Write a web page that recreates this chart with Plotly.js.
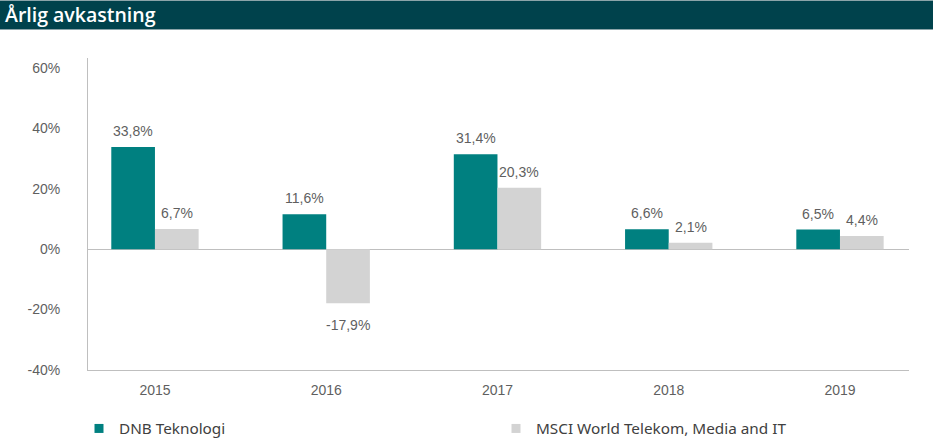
<!DOCTYPE html>
<html>
<head>
<meta charset="utf-8">
<script src="https://cdn.plot.ly/plotly-3.0.1.min.js"></script>
<style>html,body{margin:0;padding:0;background:#fff;}#chart{width:933px;height:441px;}</style>
</head>
<body>
<div id="chart"></div>
<script>
const categories = ["2015", "2016", "2017", "2018", "2019"];
const seriesNames = ["DNB Teknologi", "MSCI World Telekom, Media and IT"];
const dnbValues = [33.8, 11.6, 31.4, 6.6, 6.5];
const msciValues = [6.7, -17.9, 20.3, 2.1, 4.4];
const yTickValues = [-40, -20, 0, 20, 40, 60];
const yTickLabels = ["-40%", "-20%", "0%", "20%", "40%", "60%"];
const titleText = "Årlig avkastning";

const fmt = v => v.toFixed(1).replace('.', ',') + '%';

const W = 933, H = 441;
const M = {l: 88, r: 24, t: 58, b: 71, autoexpand: false};
const PW = W - M.l - M.r, PH = H - M.t - M.b;
const py = p => 1 + (M.t - p) / PH;   // pixel row -> paper y
const px = p => (p - M.l) / PW;       // pixel col -> paper x

const labelFont = () => ({family: "Liberation Sans, Arial, sans-serif", size: 14, color: "#5f5f5f"});
const legendFont = {family: "Noto Sans, sans-serif", size: 15.3, color: "#404040"};
const colors = ["#008080", "#d3d3d3"];

const traces = [
  {type: "bar", name: seriesNames[0], x: categories, y: dnbValues, showlegend: false,
   marker: {color: colors[0]}, hoverinfo: "none"},
  {type: "bar", name: seriesNames[1], x: categories, y: msciValues, showlegend: false,
   marker: {color: colors[1]}, hoverinfo: "none"},
  // legend-only entries (no data drawn)
  {type: "scatter", mode: "markers", name: seriesNames[0], x: [null], y: [null], legend: "legend",
   marker: {symbol: "square", size: 9, color: colors[0]}, hoverinfo: "none"},
  {type: "scatter", mode: "markers", name: seriesNames[1], x: [null], y: [null], legend: "legend2",
   marker: {symbol: "square", size: 9, color: colors[1]}, hoverinfo: "none"}
];

// value labels placed on the axes' own scales, offset to each bar of the group
const halfBar = 21.8;
const labelAnn = (vals, side) => vals.map((v, i) => ({
  x: i, y: v, xref: "x", yref: "y", text: fmt(v), showarrow: false,
  xshift: side * halfBar, font: labelFont(), xanchor: "center",
  yanchor: v >= 0 ? "bottom" : "top", yshift: v >= 0 ? 6 : -12
}));
const annotations = labelAnn(dnbValues, -1).concat(labelAnn(msciValues, 1));

const layout = {
  width: W, height: H,
  margin: M,
  paper_bgcolor: "#fff", plot_bgcolor: "#fff",
  barmode: "group", bargap: 0.49, bargroupgap: 0,
  title: {text: titleText, x: 5 / W, xref: "container", xanchor: "left", y: 1 - 15 / H, yanchor: "middle", yref: "container",
          font: {family: "Open Sans, sans-serif", size: 19.5, color: "#ffffff", weight: 600}, pad: {l: 0, t: 0, b: 0, r: 0}},
  xaxis: {type: "category", range: [-0.391, 4.403], showgrid: false, zeroline: false,
          showline: true, linecolor: "#bfbfbf", linewidth: 1, ticks: "",
          tickfont: labelFont(), ticklabelstandoff: 7, fixedrange: true},
  yaxis: {range: [-40, 63.3], tickvals: yTickValues, ticktext: yTickLabels, showgrid: false,
          zeroline: true, zerolinecolor: "#bfbfbf", zerolinewidth: 1,
          showline: true, linecolor: "#bfbfbf", linewidth: 1, ticks: "",
          tickfont: labelFont(), ticklabelstandoff: 24, fixedrange: true},
  showlegend: true,
  legend: {orientation: "h", x: px(79), xanchor: "left", y: py(428.5), yanchor: "middle",
           font: legendFont, itemclick: false, bgcolor: "rgba(0,0,0,0)"},
  legend2: {orientation: "h", x: px(496), xanchor: "left", y: py(428.5), yanchor: "middle",
           font: legendFont, itemclick: false, bgcolor: "rgba(0,0,0,0)"},
  annotations: annotations,
  shapes: [
    {type: "rect", xref: "paper", yref: "paper", x0: px(0), x1: px(W), y0: py(29), y1: py(0),
     fillcolor: "#00424c", line: {width: 0}, layer: "below"},
    {type: "line", xref: "paper", yref: "paper", x0: px(0), x1: px(W), y0: py(29.5), y1: py(29.5),
     line: {color: "#8ba4a9", width: 1}},
    {type: "line", xref: "paper", yref: "paper", x0: px(0), x1: px(W), y0: py(0.5), y1: py(0.5),
     line: {color: "#8ba4a9", width: 1}}
  ]
};

Plotly.newPlot("chart", traces, layout, {displayModeBar: false, staticPlot: true});
</script>
</body>
</html>
